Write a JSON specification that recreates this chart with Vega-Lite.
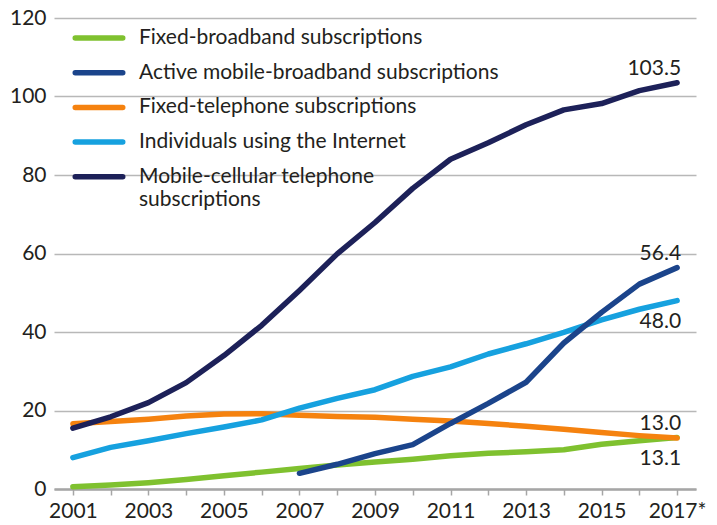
{
  "$schema": "https://vega.github.io/schema/vega-lite/v6.json",
  "autosize": "none",
  "width": 642,
  "height": 471,
  "padding": {"left": 54, "top": 18, "right": 21, "bottom": 36},
  "background": "white",
  "config": {
    "font": "Lato",
    "view": {"stroke": null},
    "axis": {"labelFont": "Lato", "labelFontSize": 21, "labelColor": "#231f20", "titleFont": "Lato"},
    "legend": {"labelFont": "Lato"}
  },
  "data": {
    "values": [
      {"year": 2001, "Fixed-broadband subscriptions": 0.6, "Fixed-telephone subscriptions": 16.6, "Individuals using the Internet": 8.0, "Mobile-cellular telephone subscriptions": 15.5},
      {"year": 2002, "Fixed-broadband subscriptions": 1.0, "Fixed-telephone subscriptions": 17.2, "Individuals using the Internet": 10.6, "Mobile-cellular telephone subscriptions": 18.4},
      {"year": 2003, "Fixed-broadband subscriptions": 1.6, "Fixed-telephone subscriptions": 17.8, "Individuals using the Internet": 12.3, "Mobile-cellular telephone subscriptions": 22.0},
      {"year": 2004, "Fixed-broadband subscriptions": 2.4, "Fixed-telephone subscriptions": 18.6, "Individuals using the Internet": 14.1, "Mobile-cellular telephone subscriptions": 27.1},
      {"year": 2005, "Fixed-broadband subscriptions": 3.4, "Fixed-telephone subscriptions": 19.1, "Individuals using the Internet": 15.8, "Mobile-cellular telephone subscriptions": 34.0},
      {"year": 2006, "Fixed-broadband subscriptions": 4.3, "Fixed-telephone subscriptions": 19.2, "Individuals using the Internet": 17.6, "Mobile-cellular telephone subscriptions": 41.7},
      {"year": 2007, "Fixed-broadband subscriptions": 5.2, "Active mobile-broadband subscriptions": 4.0, "Fixed-telephone subscriptions": 18.8, "Individuals using the Internet": 20.6, "Mobile-cellular telephone subscriptions": 50.6},
      {"year": 2008, "Fixed-broadband subscriptions": 6.1, "Active mobile-broadband subscriptions": 6.3, "Fixed-telephone subscriptions": 18.5, "Individuals using the Internet": 23.1, "Mobile-cellular telephone subscriptions": 59.9},
      {"year": 2009, "Fixed-broadband subscriptions": 6.9, "Active mobile-broadband subscriptions": 9.0, "Fixed-telephone subscriptions": 18.3, "Individuals using the Internet": 25.3, "Mobile-cellular telephone subscriptions": 67.9},
      {"year": 2010, "Fixed-broadband subscriptions": 7.6, "Active mobile-broadband subscriptions": 11.3, "Fixed-telephone subscriptions": 17.8, "Individuals using the Internet": 28.7, "Mobile-cellular telephone subscriptions": 76.6},
      {"year": 2011, "Fixed-broadband subscriptions": 8.5, "Active mobile-broadband subscriptions": 16.7, "Fixed-telephone subscriptions": 17.3, "Individuals using the Internet": 31.1, "Mobile-cellular telephone subscriptions": 84.0},
      {"year": 2012, "Fixed-broadband subscriptions": 9.1, "Active mobile-broadband subscriptions": 21.8, "Fixed-telephone subscriptions": 16.7, "Individuals using the Internet": 34.4, "Mobile-cellular telephone subscriptions": 88.2},
      {"year": 2013, "Fixed-broadband subscriptions": 9.5, "Active mobile-broadband subscriptions": 27.2, "Fixed-telephone subscriptions": 16.0, "Individuals using the Internet": 37.0, "Mobile-cellular telephone subscriptions": 92.8},
      {"year": 2014, "Fixed-broadband subscriptions": 10.0, "Active mobile-broadband subscriptions": 37.2, "Fixed-telephone subscriptions": 15.2, "Individuals using the Internet": 39.9, "Mobile-cellular telephone subscriptions": 96.6},
      {"year": 2015, "Fixed-broadband subscriptions": 11.4, "Active mobile-broadband subscriptions": 45.0, "Fixed-telephone subscriptions": 14.4, "Individuals using the Internet": 43.1, "Mobile-cellular telephone subscriptions": 98.2},
      {"year": 2016, "Fixed-broadband subscriptions": 12.3, "Active mobile-broadband subscriptions": 52.2, "Fixed-telephone subscriptions": 13.6, "Individuals using the Internet": 45.8, "Mobile-cellular telephone subscriptions": 101.5},
      {"year": 2017, "Fixed-broadband subscriptions": 13.1, "Active mobile-broadband subscriptions": 56.4, "Fixed-telephone subscriptions": 13.0, "Individuals using the Internet": 48.0, "Mobile-cellular telephone subscriptions": 103.5}
    ]
  },
  "transform": [
    {"fold": ["Fixed-broadband subscriptions", "Active mobile-broadband subscriptions", "Fixed-telephone subscriptions", "Individuals using the Internet", "Mobile-cellular telephone subscriptions"], "as": ["series", "value"]},
    {"filter": "isValid(datum.value)"}
  ],
  "encoding": {
    "x": {
      "field": "year", "type": "quantitative",
      "scale": {"domain": [2000.5, 2017.5], "nice": false, "zero": false},
      "axis": {
        "title": null,
        "values": [2001, 2002, 2003, 2004, 2005, 2006, 2007, 2008, 2009, 2010, 2011, 2012, 2013, 2014, 2015, 2016, 2017],
        "labelExpr": "datum.value % 2 == 1 ? (datum.value == 2017 ? '2017*' : toString(datum.value)) : ''",
        "grid": false,
        "domainColor": "#a6a6a6", "domainWidth": 2.5,
        "tickColor": "#a6a6a6", "tickWidth": 1.5, "tickSize": 6,
        "labelPadding": 5, "labelFlush": false, "labelOverlap": false
      }
    },
    "y": {
      "field": "value", "type": "quantitative",
      "scale": {"domain": [0, 120], "nice": false},
      "axis": {
        "title": null,
        "values": [0, 20, 40, 60, 80, 100, 120],
        "domain": false, "ticks": false,
        "grid": true, "gridColor": "#b8b8b8", "gridWidth": 1.5,
        "labelPadding": 8
      }
    }
  },
  "layer": [
    {
      "mark": {"type": "line", "strokeWidth": 5.5, "strokeCap": "round", "strokeJoin": "round"},
      "encoding": {
        "color": {
          "field": "series", "type": "nominal",
          "scale": {
            "domain": ["Fixed-broadband subscriptions", "Active mobile-broadband subscriptions", "Fixed-telephone subscriptions", "Individuals using the Internet", "Mobile-cellular telephone subscriptions"],
            "range": ["#7fc12f", "#1b448b", "#f5820f", "#16a1df", "#1d2159"]
          },
          "legend": {
            "title": null,
            "orient": "none",
            "legendX": 17,
            "legendY": 9,
            "padding": 0,
            "symbolType": "M-0.896,-0.052L0.896,-0.052A0.052,0.052,0,0,1,0.896,0.052L-0.896,0.052A0.052,0.052,0,0,1,-0.896,-0.052Z",
            "symbolSize": 2809,
            "symbolStrokeWidth": 2.75,
            "clipHeight": 22,
            "labelFontSize": 21,
            "labelColor": "#231f20",
            "labelLimit": 500,
            "labelOffset": 12,
            "rowPadding": 12.7,
            "labelExpr": "datum.label == 'Mobile-cellular telephone subscriptions' ? ['Mobile-cellular telephone', 'subscriptions'] : datum.label"
          }
        }
      }
    },
    {
      "transform": [
        {"filter": "datum.year == 2017 && (datum.series == 'Mobile-cellular telephone subscriptions' || datum.series == 'Active mobile-broadband subscriptions' || datum.series == 'Fixed-telephone subscriptions')"}
      ],
      "mark": {"type": "text", "align": "right", "baseline": "alphabetic", "dx": 4, "dy": -8, "fontSize": 21, "color": "#231f20"},
      "encoding": {"text": {"field": "value", "type": "quantitative", "format": ".1f"}}
    },
    {
      "transform": [
        {"filter": "datum.year == 2017 && (datum.series == 'Individuals using the Internet' || datum.series == 'Fixed-broadband subscriptions')"}
      ],
      "mark": {"type": "text", "align": "right", "baseline": "alphabetic", "dx": 4, "dy": 27, "fontSize": 21, "color": "#231f20"},
      "encoding": {"text": {"field": "value", "type": "quantitative", "format": ".1f"}}
    }
  ]
}
